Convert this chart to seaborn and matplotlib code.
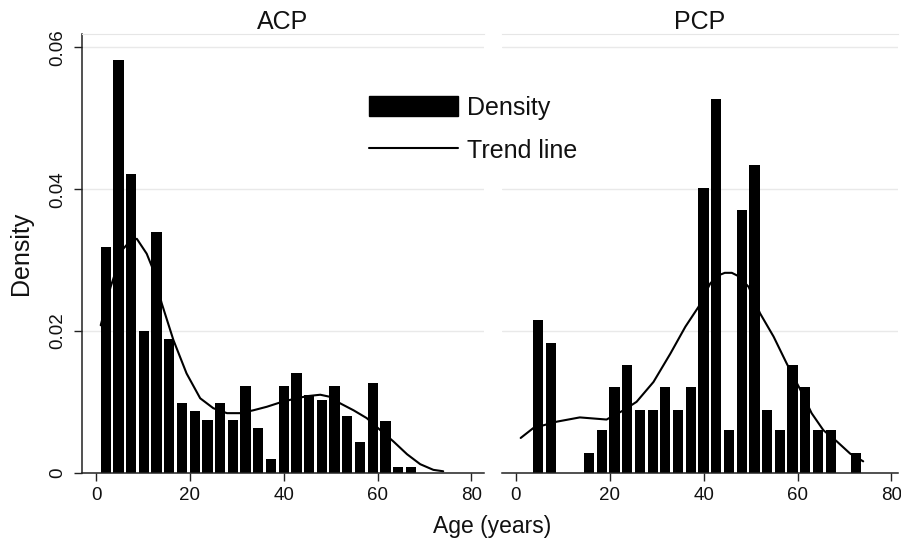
import numpy as np
import pandas as pd
import matplotlib.pyplot as plt
from matplotlib.patches import Patch
from matplotlib.lines import Line2D
import seaborn as sns

# histogram bins (years) and bar heights
bin_width = 2.71
acp_bin_start = 0.71
acp_density = [0.0319, 0.0583, 0.0421, 0.0200, 0.0339, 0.0189, 0.0098, 0.0087,
               0.0074, 0.0098, 0.0074, 0.0122, 0.0063, 0.0020, 0.0122, 0.0140,
               0.0109, 0.0103, 0.0122, 0.0080, 0.0044, 0.0127, 0.0073, 0.0008,
               0.0008]
pcp_bin_start = 3.39
pcp_density = [0.0215, 0.0183, 0.0, 0.0, 0.0028, 0.0060, 0.0121, 0.0152,
               0.0089, 0.0089, 0.0121, 0.0089, 0.0121, 0.0402, 0.0527, 0.0060,
               0.0371, 0.0434, 0.0089, 0.0060, 0.0152, 0.0121, 0.0060, 0.0060,
               0.0, 0.0028]

# kernel density trend lines
acp_trend_age = [1.0, 3.1, 5.8, 7.3, 8.7, 10.8, 11.9, 14.0, 16.5, 19.3, 22.2,
                 25.0, 27.9, 30.7, 33.5, 36.4, 39.2, 42.1, 45.0, 47.8, 49.9,
                 52.0, 54.9, 57.7, 60.6, 63.4, 66.3, 69.1, 71.9, 74.0]
acp_trend_density = [0.0208, 0.0262, 0.0316, 0.0327, 0.0330, 0.0309, 0.0291,
                     0.0239, 0.0187, 0.0140, 0.0105, 0.0091, 0.0084, 0.0084,
                     0.0088, 0.0093, 0.0099, 0.0104, 0.0108, 0.0110, 0.0107,
                     0.0098, 0.0088, 0.0077, 0.0060, 0.0044, 0.0026, 0.0012,
                     0.0004, 0.0002]
pcp_trend_age = [1.0, 3.7, 8.7, 13.6, 19.3, 22.9, 25.7, 29.3, 32.9, 36.1, 38.9,
                 41.4, 43.0, 44.5, 46.0, 47.5, 49.6, 52.0, 54.9, 57.7, 60.6,
                 63.0, 65.5, 68.4, 71.2, 74.0]
pcp_trend_density = [0.0049, 0.0063, 0.0072, 0.0078, 0.0075, 0.0088, 0.0100,
                     0.0128, 0.0168, 0.0206, 0.0234, 0.0267, 0.0278, 0.0282,
                     0.0282, 0.0277, 0.0262, 0.0225, 0.0192, 0.0154, 0.0117,
                     0.0084, 0.0060, 0.0044, 0.0027, 0.0016]

panel_titles = ['ACP', 'PCP']
x_ticks = [0, 20, 40, 60, 80]
y_ticks = [0, 0.02, 0.04, 0.06]
y_tick_labels = ['0', '0.02', '0.04', '0.06']

sns.set_style('ticks')
plt.rcParams['font.family'] = ['Liberation Sans', 'DejaVu Sans']
plt.rcParams['text.color'] = '#111111'
plt.rcParams['axes.labelcolor'] = '#111111'
plt.rcParams['xtick.labelcolor'] = '#111111'
plt.rcParams['ytick.labelcolor'] = '#111111'


def draw_panel(ax, start, dens, trend_x, trend_y, title, xmax):
    n = len(dens)
    edges = start + bin_width * np.arange(n + 1)
    df = pd.DataFrame({'age': (edges[:-1] + edges[1:]) / 2, 'density': dens})
    sns.histplot(data=df, x='age', weights='density', bins=list(edges),
                 stat='count', shrink=0.8, color='black', alpha=1, linewidth=0,
                 ax=ax)
    sns.lineplot(x=trend_x, y=trend_y, color='black', lw=1.5, sort=False, ax=ax)
    ax.set_xlim(-3.05, xmax)
    ax.set_ylim(0, 0.0619)
    ax.set_yticks(y_ticks)
    ax.yaxis.grid(True, color='#e9e9e9', lw=1)
    ax.set_axisbelow(True)
    ax.set_xticks(x_ticks)
    ax.tick_params(axis='x', length=6, width=1, pad=4, labelsize=13.5, color='#222222')
    ax.set_xlabel('')
    ax.set_ylabel('')
    ax.set_title(title, fontsize=18, pad=1.5)
    ax.spines['right'].set_visible(False)
    ax.spines['top'].set_color('#e6e6e6')
    ax.spines['bottom'].set_color('#222222')
    ax.spines['bottom'].set_linewidth(1.1)


fig = plt.figure(figsize=(9.01, 5.38), dpi=100)
ax1 = fig.add_axes([0.0907, 0.1214, 0.4465, 0.8154])
ax2 = fig.add_axes([0.5568, 0.1214, 0.4398, 0.8154])

draw_panel(ax1, acp_bin_start, acp_density, acp_trend_age, acp_trend_density,
           panel_titles[0], 82.7)
draw_panel(ax2, pcp_bin_start, pcp_density, pcp_trend_age, pcp_trend_density,
           panel_titles[1], 81.4)

ax1.set_yticklabels(y_tick_labels, rotation=90, va='center')
ax1.tick_params(axis='y', length=6, width=1, pad=5, labelsize=13.5, color='#222222')
ax1.spines['left'].set_color('#222222')
ax1.spines['left'].set_linewidth(1.1)
ax1.set_ylabel('Density', fontsize=18)
ax1.yaxis.set_label_coords(-0.121, 0.5)

ax2.spines['left'].set_visible(False)
ax2.tick_params(axis='y', left=False, labelleft=False)

fig.text(492 / 901, 1 - 533 / 538, 'Age (years)', ha='center', va='baseline',
         fontsize=16.5)

handles = [Patch(facecolor='black', edgecolor='black'),
           Line2D([], [], color='black', lw=1.5)]
fig.legend(handles=handles, labels=['Density', 'Trend line'], loc='upper left',
           bbox_to_anchor=(369 / 901, 1 - 96 / 538), frameon=False, fontsize=18,
           handlelength=3.55, handleheight=0.84, handletextpad=0.36,
           labelspacing=0.74, borderpad=0, borderaxespad=0)

fig.savefig('out.png', dpi=100)
